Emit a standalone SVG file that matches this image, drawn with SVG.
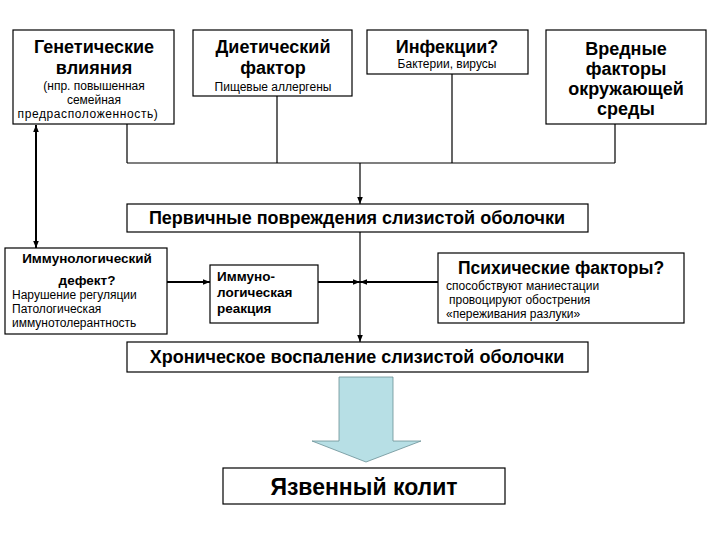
<svg xmlns="http://www.w3.org/2000/svg" width="720" height="540" viewBox="0 0 720 540">
<defs>
<style>
.box{fill:#fff;stroke:#000;stroke-width:1.2}
.t{font-family:"Liberation Sans",Arial,sans-serif;font-weight:bold;fill:#000}
.s{font-family:"Liberation Sans",Arial,sans-serif;fill:#000;font-size:12px}
.c{text-anchor:middle}
.ln{stroke:#000;stroke-width:1.2;fill:none}
.lnb{stroke:#000;stroke-width:2;fill:none}
</style>
<marker id="ah" viewBox="0 0 10 10" refX="10" refY="5" markerWidth="7" markerHeight="7" orient="auto-start-reverse" markerUnits="userSpaceOnUse">
<path d="M0,1 L10,5 L0,9 z" fill="#000"/>
</marker>
</defs>
<rect width="720" height="540" fill="#fff"/>
<g id="connectors">
<path class="ln" d="M127,124 V163 M277,96 V163 M452,74 V163 M615,124 V163 M127,163 H615"/>
<path class="ln" d="M360,163 V204" marker-end="url(#ah)"/>
<path class="ln" d="M360,232 V342" marker-end="url(#ah)"/>
<path class="lnb" d="M36,125 V248" marker-start="url(#ah)" marker-end="url(#ah)"/>
<path class="lnb" d="M167,282 H210" marker-end="url(#ah)"/>
<path class="lnb" d="M318,282 H360" marker-end="url(#ah)"/>
<path class="lnb" d="M438,282 H360" marker-end="url(#ah)"/>
</g>
<g id="genetic">
<rect class="box" x="13" y="30" width="161" height="94"/>
<text class="t c" x="94" y="53" font-size="18">Генетические</text>
<text class="t c" x="94" y="74" font-size="18">влияния</text>
<text class="s c" x="94" y="90">(нпр. повышенная</text>
<text class="s c" x="94" y="104">семейная</text>
<text class="s c" x="88" y="118" letter-spacing="0.6">предрасположенность)</text>
</g>
<g id="diet">
<rect class="box" x="193" y="30" width="159" height="66"/>
<text class="t c" x="273" y="53" font-size="18">Диетический</text>
<text class="t c" x="273" y="74" font-size="18">фактор</text>
<text class="s c" x="273" y="91">Пищевые аллергены</text>
</g>
<g id="infection">
<rect class="box" x="367" y="30" width="161" height="44"/>
<text class="t c" x="447" y="53" font-size="18">Инфекции?</text>
<text class="s c" x="447" y="68">Бактерии, вирусы</text>
</g>
<g id="environment">
<rect class="box" x="546" y="30" width="160" height="94"/>
<text class="t c" x="626" y="55" font-size="18">Вредные</text>
<text class="t c" x="626" y="75" font-size="18">факторы</text>
<text class="t c" x="626" y="95" font-size="18">окружающей</text>
<text class="t c" x="626" y="115" font-size="18">среды</text>
</g>
<g id="primary">
<rect class="box" x="127" y="204" width="461" height="28"/>
<text class="t c" x="357" y="224" font-size="18">Первичные повреждения слизистой оболочки</text>
</g>
<g id="immunodefect">
<rect class="box" x="5" y="248" width="162" height="86"/>
<text class="t c" x="87" y="263" font-size="13.5">Иммунологический</text>
<text class="t c" x="87" y="285" font-size="13.5">дефект?</text>
<text class="s" x="12" y="299">Нарушение регуляции</text>
<text class="s" x="12" y="313">Патологическая</text>
<text class="s" x="12" y="327">иммунотолерантность</text>
</g>
<g id="immunoreaction">
<rect class="box" x="210" y="265" width="108" height="58"/>
<text class="t" x="217" y="281" font-size="13.5">Иммуно-</text>
<text class="t" x="217" y="297" font-size="13.5">логическая</text>
<text class="t" x="217" y="313" font-size="13.5">реакция</text>
</g>
<g id="psych">
<rect class="box" x="438" y="253" width="246" height="70"/>
<text class="t c" x="561" y="274" font-size="17.5">Психические факторы?</text>
<text class="s" x="446" y="290">способствуют маниестации</text>
<text class="s" x="449" y="304">провоцируют обострения</text>
<text class="s" x="446" y="318">«переживания разлуки»</text>
</g>
<g id="chronic">
<rect class="box" x="127" y="342" width="461" height="30"/>
<text class="t c" x="357" y="363" font-size="18">Хроническое воспаление слизистой оболочки</text>
</g>
<g id="bigarrow">
<path d="M339,377 H393 V441 H421 L366,462 L312,441 H339 Z" fill="#b7dfe5" stroke="#6a8f96" stroke-width="0.8"/>
</g>
<g id="colitis">
<rect class="box" x="223" y="468" width="282" height="36"/>
<text class="t c" x="364" y="495" font-size="23">Язвенный колит</text>
</g>
</svg>
